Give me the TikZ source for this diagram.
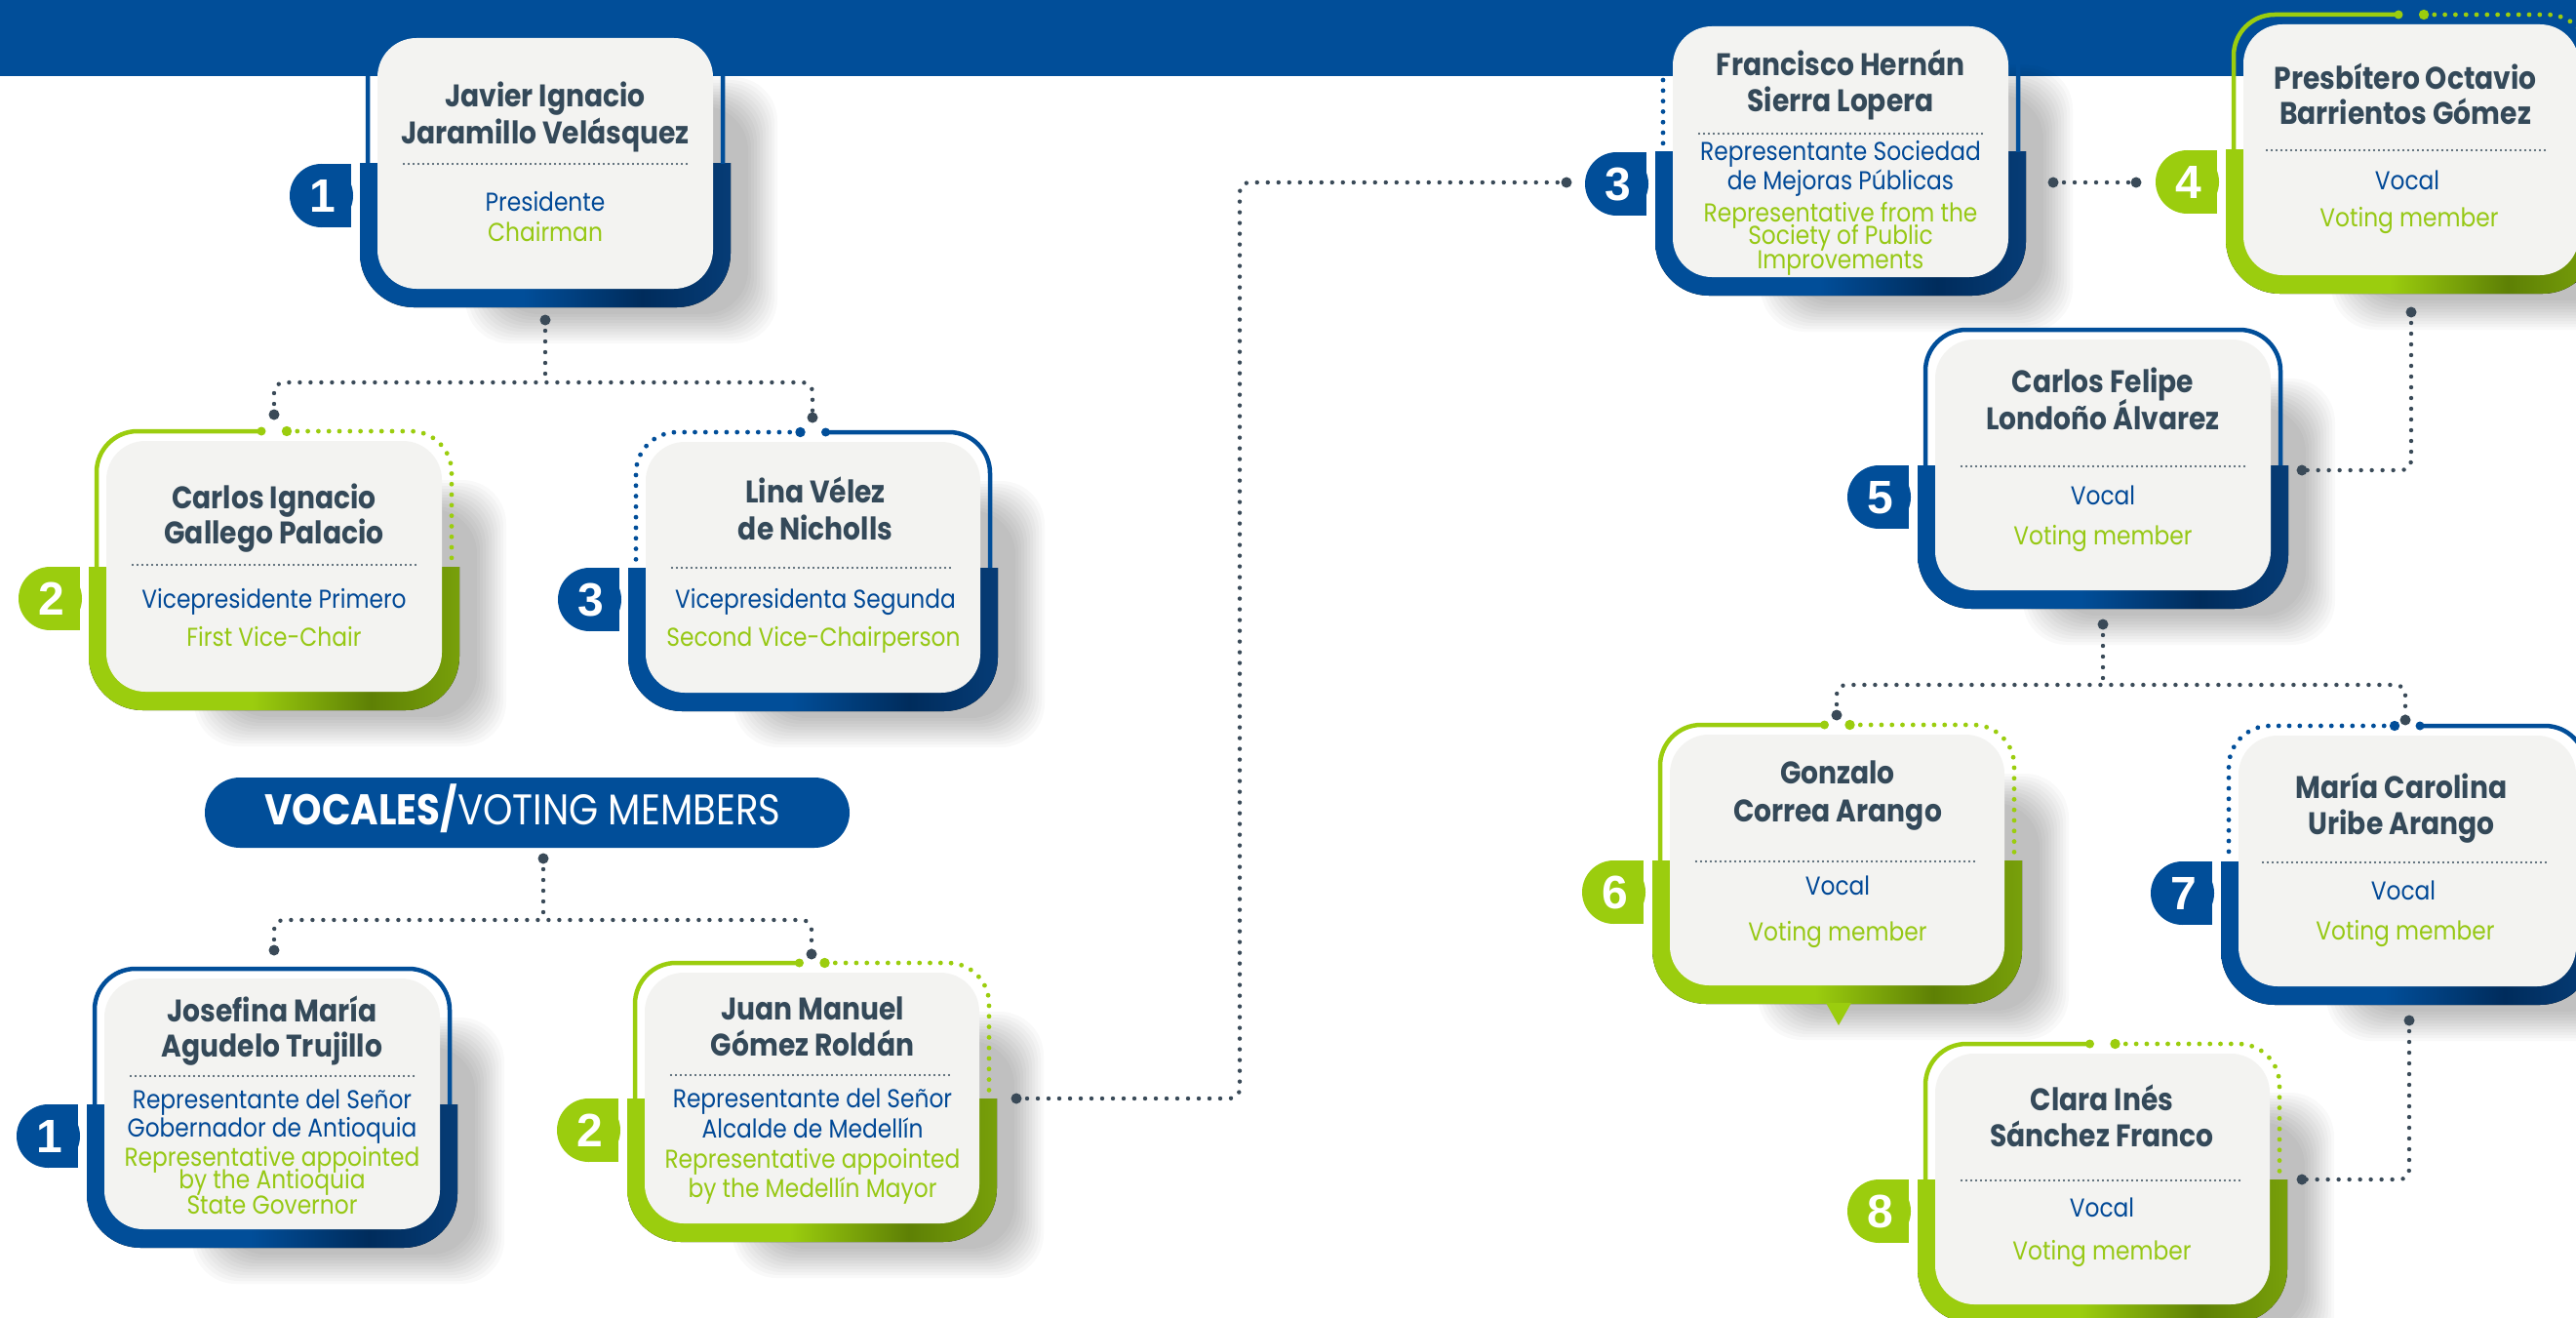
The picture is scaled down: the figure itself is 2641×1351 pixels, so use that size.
\documentclass[tikz,border=0pt]{standalone}
\usepackage{fontspec}
\setmainfont{Poppins}[FakeStretch=0.88]
\newfontfamily\numfont{Liberation Sans}
\usetikzlibrary{calc}
\definecolor{cblue}{RGB}{1,78,153}
\definecolor{cbluedark}{RGB}{0,44,92}
\definecolor{cbluemid}{RGB}{6,60,118}
\definecolor{cgreen}{RGB}{155,205,14}
\definecolor{cgreendark}{RGB}{94,128,5}
\definecolor{cgreenmid}{RGB}{120,160,10}
\definecolor{cslate}{RGB}{52,73,89}
\definecolor{cdot}{RGB}{58,74,88}
\definecolor{cardfill}{RGB}{243,243,241}
\definecolor{ctextblue}{RGB}{0,72,150}
\definecolor{ctextgreen}{RGB}{150,200,20}
\pgfdeclarehorizontalshading{cblueframe}{100bp}{color(0bp)=(cblue); color(25bp)=(cblue); color(47bp)=(cblue); color(63bp)=(cbluedark); color(75bp)=(cbluemid); color(100bp)=(cbluemid)}
\pgfdeclarehorizontalshading{cgreenframe}{100bp}{color(0bp)=(cgreen); color(25bp)=(cgreen); color(47bp)=(cgreen); color(63bp)=(cgreendark); color(75bp)=(cgreenmid); color(100bp)=(cgreenmid)}
\tikzset{
 nametxt/.style={font=\bfseries\fontsize{32}{36}\selectfont, text=cslate, anchor=base, inner sep=0pt},
 bluetxt/.style={font=\fontsize{26.5}{30}\selectfont, text=ctextblue, anchor=base, inner sep=0pt},
 greentxt/.style={font=\fontsize{26.5}{30}\selectfont, text=ctextgreen, anchor=base, inner sep=0pt},
 numtxt/.style={font=\numfont\bfseries\fontsize{48}{48}\selectfont, text=white, inner sep=0pt},
 frameline/.style={line width=4.5pt},
 framedots/.style={line width=4.8pt, line cap=round, dash pattern=on 0pt off 10.8pt},
 sepline/.style={draw=cslate, line width=2.2pt, line cap=round, dash pattern=on 0pt off 5pt},
 conn/.style={draw=cdot, line width=4.4pt, line cap=round, dash pattern=on 0pt off 11pt},
 ddot/.style={circle, fill=cdot, inner sep=0pt, minimum size=11pt},
}
% #1 L, #2 T, #3 W, #4 colour, #5 top mode (0 full, 1 right dotted, 2 left dotted), #6 number, #7 node name
\newcommand\orgcard[7]{%
 \pgfmathsetmacro\ocL{#1}\pgfmathsetmacro\ocT{#2}%
 \pgfmathsetmacro\ocR{#1+#3}\pgfmathsetmacro\ocB{#2+257}%
 \pgfmathsetmacro\ocS{#2+129}\pgfmathsetmacro\ocX{#1+#3/2}%
 \foreach \k in {0,...,10}{\fill[black,opacity=0.022,rounded corners=45pt] (\ocL+120-3*\k,\ocT+70-3*\k) rectangle (\ocR+36+3*\k,\ocB+26+3*\k);}%
 \begin{scope}
  \clip (\ocL-40,\ocS) rectangle (\ocR+40,\ocB+40);
  \fill[shading=#4frame,rounded corners=55pt] (\ocL-18,\ocS-90) rectangle (\ocR+18,\ocB+19);
 \end{scope}
 \ifcase#5
  \draw[#4,frameline,rounded corners=42pt] (\ocL-10,\ocS) -- (\ocL-10,\ocT-10) -- (\ocR+10,\ocT-10) -- (\ocR+10,\ocS);
 \or
  \draw[#4,frameline,rounded corners=42pt] (\ocX-13,\ocT-10) -- (\ocL-10,\ocT-10) -- (\ocL-10,\ocS);
  \fill[#4] (\ocX-13,\ocT-10) circle (4.5);
  \draw[#4,framedots,rounded corners=42pt] (\ocX+13,\ocT-10) -- (\ocR+10,\ocT-10) -- (\ocR+10,\ocS-5);
  \fill[#4] (\ocX+13,\ocT-10) circle (5.2);
 \or
  \draw[#4,framedots,rounded corners=42pt] (\ocX-13,\ocT-10) -- (\ocL-10,\ocT-10) -- (\ocL-10,\ocS-5);
  \fill[#4] (\ocX-13,\ocT-10) circle (5.2);
  \draw[#4,frameline,rounded corners=42pt] (\ocX+13,\ocT-10) -- (\ocR+10,\ocT-10) -- (\ocR+10,\ocS);
  \fill[#4] (\ocX+13,\ocT-10) circle (4.5);
 \fi
 \fill[cardfill,rounded corners=40pt] (\ocL,\ocT) rectangle (\ocR,\ocB);
 \fill[#4] (\ocL-57.5,\ocS+32.5) circle (32.5);
 \fill[#4] (\ocL-57.5,\ocS) rectangle (\ocL-27,\ocS+65);
 \node[numtxt] (#7) at (\ocL-56,\ocS+33) {#6};
}
\begin{document}
\begin{tikzpicture}[x=1pt,y=-1pt]
\useasboundingbox (0,0) rectangle (2641,1351);
\clip (0,0) rectangle (2641,1351);
\fill[white] (0,0) rectangle (2641,1351);
\fill[cblue] (0,0) rectangle (2641,78);

% cards
\orgcard{387}{39}{344}{cblue}{0}{1}{tab-jav}
\orgcard{109}{452}{344}{cgreen}{1}{2}{tab-car}
\orgcard{662}{453}{343}{cblue}{2}{3}{tab-lin}
\orgcard{107}{1003}{344}{cblue}{0}{1}{tab-jos}
\orgcard{661}{997}{343}{cgreen}{1}{2}{tab-jua}
\orgcard{1715}{27}{344}{cblue}{2}{3}{tab-fra}
\orgcard{2300}{25}{344}{cgreen}{1}{4}{tab-pre}
\orgcard{1984}{348}{344}{cblue}{0}{5}{tab-cfl}
\orgcard{1712}{753}{343}{cgreen}{1}{6}{tab-gon}
\fill[cgreen] (1872,1028) -- (1898,1028) -- (1885,1051) -- cycle;
\orgcard{2295}{754}{346}{cblue}{2}{7}{tab-mar}
\orgcard{1984}{1080}{343}{cgreen}{1}{8}{tab-cla}

% banner
\node[fill=cblue, rounded corners=36pt, minimum width=661pt, minimum height=72pt, inner sep=0pt] (vocales) at (540.5,833) {};
\node[font=\fontsize{44}{44}\selectfont, text=white, anchor=base, inner sep=0pt] (vocales-txt) at (536,845) {\textbf{VOCALES/}VOTING MEMBERS};

% separators
\draw[sepline] (414,168) -- (704,168);
\draw[sepline] (136,579) -- (426,579);
\draw[sepline] (689,582) -- (978,582);
\draw[sepline] (134,1103) -- (424,1103);
\draw[sepline] (688,1102) -- (977,1102);
\draw[sepline] (1742,137) -- (2032,137);
\draw[sepline] (2324,154) -- (2612,154);
\draw[sepline] (2011,478) -- (2301,478);
\draw[sepline] (1739,883) -- (2028,883);
\draw[sepline] (2320,884) -- (2610,884);
\draw[sepline] (2011,1210) -- (2300,1210);

% texts: Javier
\node[nametxt] (jav1) at (559,110) {Javier Ignacio};
\node[nametxt] (jav2) at (559,148) {Jaramillo Velásquez};
\node[bluetxt] (jav3) at (559,216) {Presidente};
\node[greentxt] (jav4) at (559,247) {Chairman};
% Carlos Ignacio
\node[nametxt] (car1) at (281,521) {Carlos Ignacio};
\node[nametxt] (car2) at (281,557) {Gallego Palacio};
\node[bluetxt] (car3) at (281,623) {Vicepresidente Primero};
\node[greentxt] (car4) at (281,662) {First Vice-Chair};
% Lina
\node[nametxt] (lin1) at (836,515) {Lina Vélez};
\node[nametxt] (lin2) at (836,553) {de Nicholls};
\node[bluetxt] (lin3) at (836,623) {Vicepresidenta Segunda};
\node[greentxt] (lin4) at (834,662) {Second Vice-Chairperson};
% Josefina
\node[nametxt] (jos1) at (279,1047) {Josefina María};
\node[nametxt] (jos2) at (279,1083) {Agudelo Trujillo};
\node[bluetxt] (jos3) at (279,1136) {Representante del Señor};
\node[bluetxt] (jos4) at (279,1165) {Gobernador de Antioquia};
\node[greentxt] (jos5) at (279,1195) {Representative appointed};
\node[greentxt] (jos6) at (279,1218) {by the Antioquia};
\node[greentxt] (jos7) at (279,1244) {State Governor};
% Juan
\node[nametxt] (jua1) at (833,1045) {Juan Manuel};
\node[nametxt] (jua2) at (833,1082) {Gómez Roldán};
\node[bluetxt] (jua3) at (833,1135) {Representante del Señor};
\node[bluetxt] (jua4) at (833,1166) {Alcalde de Medellín};
\node[greentxt] (jua5) at (833,1197) {Representative appointed};
\node[greentxt] (jua6) at (833,1227) {by the Medellín Mayor};
% Francisco
\node[nametxt] (fra1) at (1887,78) {Francisco Hernán};
\node[nametxt] (fra2) at (1887,115) {Sierra Lopera};
\node[bluetxt] (fra3) at (1887,165) {Representante Sociedad};
\node[bluetxt] (fra4) at (1887,195) {de Mejoras Públicas};
\node[greentxt] (fra5) at (1887,227) {Representative from the};
\node[greentxt] (fra6) at (1887,250) {Society of Public};
\node[greentxt] (fra7) at (1887,275) {Improvements};
% Presbitero
\node[nametxt] (pre1) at (2466,92) {Presbítero Octavio};
\node[nametxt] (pre2) at (2466,128) {Barrientos Gómez};
\node[bluetxt] (pre3) at (2468,195) {Vocal};
\node[greentxt] (pre4) at (2470,232) {Voting member};
% Carlos Felipe
\node[nametxt] (cfl1) at (2156,402) {Carlos Felipe};
\node[nametxt] (cfl2) at (2156,440) {Londoño Álvarez};
\node[bluetxt] (cfl3) at (2156,517) {Vocal};
\node[greentxt] (cfl4) at (2156,558) {Voting member};
% Gonzalo
\node[nametxt] (gon1) at (1884,803) {Gonzalo};
\node[nametxt] (gon2) at (1884,842) {Correa Arango};
\node[bluetxt] (gon3) at (1884,917) {Vocal};
\node[greentxt] (gon4) at (1884,964) {Voting member};
% Maria
\node[nametxt] (mar1) at (2462,818) {María Carolina};
\node[nametxt] (mar2) at (2462,855) {Uribe Arango};
\node[bluetxt] (mar3) at (2464,922) {Vocal};
\node[greentxt] (mar4) at (2466,963) {Voting member};
% Clara
\node[nametxt] (cla1) at (2155,1138) {Clara Inés};
\node[nametxt] (cla2) at (2155,1175) {Sánchez Franco};
\node[bluetxt] (cla3) at (2155,1247) {Vocal};
\node[greentxt] (cla4) at (2155,1291) {Voting member};

% connector dots
\node[ddot] (d-javB) at (559,328) {};
\node[ddot] (d-carT) at (281,425) {};
\node[ddot] (d-linT) at (833,428) {};
\node[ddot] (d-vocB) at (557,880) {};
\node[ddot] (d-josT) at (281,974) {};
\node[ddot] (d-juaT) at (832,978) {};
\node[ddot] (d-juaR) at (1042,1126) {};
\node[ddot] (d-fraL) at (1606,187) {};
\node[ddot] (d-fraR) at (2105,187) {};
\node[ddot] (d-preL) at (2190,187) {};
\node[ddot] (d-preB) at (2472,320) {};
\node[ddot] (d-cfR) at (2360,482) {};
\node[ddot] (d-cfB) at (2156,640) {};
\node[ddot] (d-gonT) at (1883,733) {};
\node[ddot] (d-marT) at (2466,738) {};
\node[ddot] (d-marB) at (2470,1046) {};
\node[ddot] (d-claR) at (2360,1209) {};
\coordinate (js) at (559,392);
\coordinate (vs) at (557,943);
\coordinate (jfm) at (1271,650);
\coordinate (cs) at (2156,702);

% connectors
\draw[conn] (d-javB.center) -- (js);
\draw[conn, rounded corners=10pt] (d-carT.center) |- (js) -| (d-linT.center);
\draw[conn] (d-vocB.center) -- (vs);
\draw[conn, rounded corners=10pt] (d-josT.center) |- (vs) -| (d-juaT.center);
\draw[conn, rounded corners=10pt] (d-juaR.center) -| (jfm) |- (d-fraL.center);
\draw[conn] (d-fraR.center) -- (d-preL.center);
\draw[conn, rounded corners=10pt] (d-preB.center) |- (d-cfR.center);
\draw[conn] (d-cfB.center) -- (cs);
\draw[conn, rounded corners=10pt] (d-gonT.center) |- (cs) -| (d-marT.center);
\draw[conn, rounded corners=10pt] (d-marB.center) |- (d-claR.center);
\end{tikzpicture}
\end{document}
